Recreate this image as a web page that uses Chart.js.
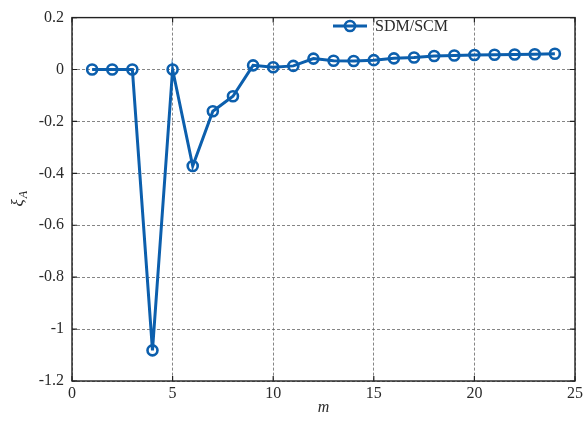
<!DOCTYPE html>
<html>
<head>
<meta charset="utf-8">
<script src="https://cdn.jsdelivr.net/npm/chart.js@4/dist/chart.umd.min.js"></script>
<style>
  html, body { margin: 0; padding: 0; background: #fff; }
  #wrap { width: 586px; height: 421px; }
</style>
</head>
<body>
<div id="wrap"><canvas id="xiChart"></canvas></div>
<script>
// SDM/SCM ratio per mode index m
const mValues = [1, 2, 3, 4, 5, 6, 7, 8, 9, 10, 11, 12, 13, 14, 15, 16, 17, 18, 19, 20, 21, 22, 23, 24];
const xiValues = [0, 0, 0, -1.082, 0, -0.372, -0.161, -0.103, 0.016, 0.009, 0.014, 0.042,
                  0.034, 0.033, 0.036, 0.043, 0.046, 0.052, 0.054, 0.056, 0.057, 0.058, 0.059, 0.061];
const xTicks = [0, 5, 10, 15, 20, 25];
const yTicks = [-1.2, -1, -0.8, -0.6, -0.4, -0.2, 0, 0.2];
const seriesLabel = 'SDM/SCM';

const BLUE = '#0c5fad';
const INK = '#2a2a2a';
const SERIF = '"Liberation Serif", "DejaVu Serif", serif';

// frame, inward tick marks, y title with subscript, legend inside the plot
const framePlugin = {
    id: 'frame',
    afterDraw(chart) {
        const { ctx, chartArea: a, scales } = chart;
        ctx.save();
        ctx.strokeStyle = '#222';
        ctx.lineWidth = 1.4;
        ctx.strokeRect(a.left, a.top, a.right - a.left, a.bottom - a.top);

        ctx.lineWidth = 1.2;
        xTicks.forEach(v => {
            const x = scales.x.getPixelForValue(v);
            ctx.beginPath();
            ctx.moveTo(x, a.bottom); ctx.lineTo(x, a.bottom - 5);
            ctx.moveTo(x, a.top); ctx.lineTo(x, a.top + 5);
            ctx.stroke();
        });
        yTicks.forEach(v => {
            const y = scales.y.getPixelForValue(v);
            ctx.beginPath();
            ctx.moveTo(a.left, y); ctx.lineTo(a.left + 5, y);
            ctx.moveTo(a.right, y); ctx.lineTo(a.right - 5, y);
            ctx.stroke();
        });

        // y axis title: xi with subscript A
        ctx.translate(19, (a.top + a.bottom) / 2);
        ctx.rotate(-Math.PI / 2);
        ctx.fillStyle = INK;
        ctx.textBaseline = 'middle';
        ctx.font = 'italic 17px ' + SERIF;
        ctx.textAlign = 'right';
        ctx.fillText('ξ', 0, 0);
        ctx.font = 'italic 12px ' + SERIF;
        ctx.textAlign = 'left';
        ctx.fillText('A', 1, 5);
        ctx.restore();

        // legend entry
        const lx = 333, ly = 26;
        ctx.save();
        ctx.strokeStyle = BLUE;
        ctx.lineWidth = 3;
        ctx.beginPath();
        ctx.moveTo(lx, ly); ctx.lineTo(lx + 34, ly);
        ctx.stroke();
        ctx.lineWidth = 2.6;
        ctx.beginPath();
        ctx.arc(lx + 17, ly, 5, 0, Math.PI * 2);
        ctx.stroke();
        ctx.fillStyle = INK;
        ctx.font = '16px ' + SERIF;
        ctx.textBaseline = 'middle';
        ctx.fillText(seriesLabel, lx + 42, ly + 1);
        ctx.restore();
    }
};

new Chart(document.getElementById('xiChart'), {
    type: 'line',
    data: {
        datasets: [{
            label: seriesLabel,
            data: mValues.map((m, i) => ({ x: m, y: xiValues[i] })),
            borderColor: BLUE,
            borderWidth: 3,
            pointRadius: 5,
            pointBorderWidth: 2.6,
            pointBackgroundColor: 'rgba(0,0,0,0)',
            pointBorderColor: BLUE,
            tension: 0
        }]
    },
    options: {
        responsive: true,
        maintainAspectRatio: false,
        animation: false,
        layout: { padding: { top: 16, right: 10, left: 0, bottom: 0 } },
        plugins: { legend: { display: false }, tooltip: { enabled: false } },
        scales: {
            x: {
                type: 'linear',
                min: 0, max: 25,
                afterBuildTicks: s => { s.ticks = xTicks.map(v => ({ value: v })); },
                afterFit: s => { s.height = 40; },
                ticks: { color: INK, font: { family: SERIF, size: 16 }, padding: 3, maxRotation: 0 },
                grid: { color: '#666', lineWidth: 0.8, drawTicks: false },
                border: { display: false, dash: [3, 2] },
                title: { display: true, text: 'm', color: INK, font: { family: SERIF, size: 16, style: 'italic' }, padding: { top: 0 } }
            },
            y: {
                min: -1.2, max: 0.2,
                afterBuildTicks: s => { s.ticks = yTicks.map(v => ({ value: v })); },
                afterFit: s => { s.width = 72; },
                ticks: { color: INK, font: { family: SERIF, size: 16 }, padding: 8,
                         callback: v => String(Math.round(v * 10) / 10) },
                grid: { color: '#666', lineWidth: 0.8, drawTicks: false },
                border: { display: false, dash: [3, 2] }
            }
        }
    },
    plugins: [framePlugin]
});
</script>
</body>
</html>
